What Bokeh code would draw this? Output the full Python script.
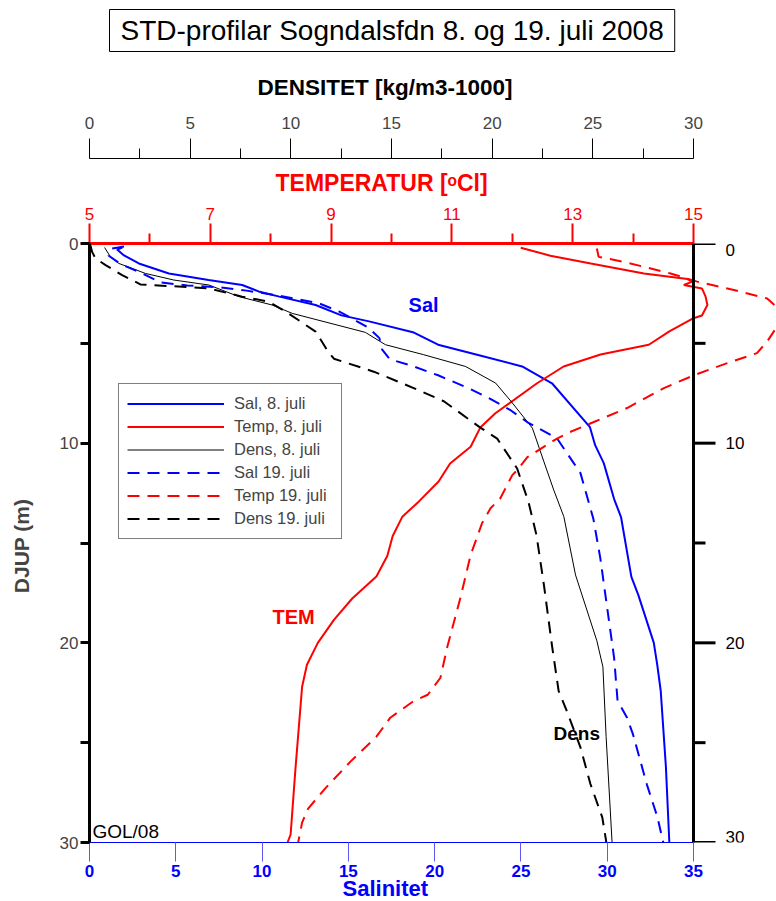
from bokeh.plotting import figure
from bokeh.models import (Range1d, LinearAxis, FixedTicker, Span, Label, Legend,
                          LegendItem, Title)
from bokeh.embed import file_html
from bokeh.resources import INLINE

# ---------------- data ----------------
sal_8_depth = [0.2, 0.3, 0.6, 1.0, 1.5, 1.83, 2.08, 2.4, 2.66, 3.08, 3.6, 3.9, 4.46, 5.07,
               5.57, 6.16, 7.0, 9.2, 10.1, 11.0, 12.8, 13.7, 16.7, 17.6, 20.0, 21.1, 22.4,
               26.2, 30.0]
sal_8 = [1.9, 1.6, 2.0, 2.86, 4.6, 6.9, 8.85, 9.8, 11.0, 13.1, 14.6, 16.2, 18.8, 20.2,
         22.46, 25.07, 26.8, 29.0, 29.3, 29.8, 30.4, 30.8, 31.4, 31.8, 32.7, 32.9, 33.1,
         33.4, 33.6]

temp_8_depth = [0.21, 0.61, 1.0, 1.5, 1.78, 1.91, 2.08, 2.25, 2.66, 3.08, 3.61, 3.74, 4.4,
                5.07, 5.56, 6.16, 7.0, 8.5, 9.22, 10.18, 11.02, 11.92, 12.93, 13.68, 14.65,
                15.65, 16.68, 17.78, 18.84, 20.0, 21.1, 22.2, 26.3, 29.6, 30.07]
temp_8 = [12.14, 12.63, 13.3, 14.18, 14.9, 14.98, 14.84, 15.14, 15.2, 15.23, 15.14, 15.0,
          14.6, 14.26, 13.46, 12.85, 12.41, 11.72, 11.47, 11.31, 10.97, 10.78, 10.45, 10.18,
          10.02, 9.93, 9.75, 9.35, 9.05, 8.78, 8.6, 8.52, 8.41, 8.33, 8.27]

dens_8_depth = [0.2, 0.67, 1.0, 1.5, 1.83, 2.08, 2.66, 3.08, 3.5, 4.45, 5.07, 5.57, 6.16,
                6.99, 7.92, 9.25, 10.9, 12.35, 13.68, 16.6, 19.9, 21.2, 24.7, 30.07]
dens_8 = [0.75, 1.04, 1.46, 2.78, 4.19, 5.93, 7.42, 9.07, 10.07, 13.7, 14.7, 16.6, 18.68,
          20.17, 20.95, 22.0, 22.56, 23.06, 23.56, 24.14, 25.2, 25.5, 25.66, 25.96]

sal_19_depth = [0.15, 0.25, 0.6, 1.03, 1.45, 1.95, 2.1, 2.2, 2.36, 2.6, 3.0, 3.4, 3.75, 4.24,
                4.74, 5.3, 5.8, 6.1, 6.6, 7.3, 7.77, 8.35, 8.94, 9.77, 11.0, 11.5, 13.8,
                15.76, 18.26, 20.75, 22.9, 23.75, 24.6, 27.1, 28.7, 30.2, 31.2]
sal_19 = [2.0, 1.3, 1.1, 1.8, 2.95, 4.1, 5.66, 7.6, 9.1, 10.9, 13.3, 14.45, 15.2, 16.2,
          16.8, 16.95, 17.4, 18.6, 20.2, 22.1, 23.2, 24.4, 25.36, 27.1, 28.06, 28.45, 29.2,
          29.6, 30.0, 30.4, 30.6, 31.15, 31.5, 32.3, 32.9, 33.3, 33.1]

temp_19_depth = [0.25, 0.67, 0.92, 1.5, 1.91, 2.33, 2.75, 3.25, 4.08, 4.91, 5.49, 5.99, 6.57,
                 7.24, 8.24, 8.94, 9.45, 9.77, 10.7, 11.35, 11.6, 12.77, 13.26, 14.0, 15.6,
                 17.76, 20.25, 21.75, 22.6, 22.95, 23.75, 24.7, 25.95, 27.3, 28.3, 29.0,
                 30.07, 30.8]
temp_19 = [13.4, 13.43, 13.85, 14.62, 15.06, 15.67, 16.22, 16.4, 16.4, 16.22, 16.05, 15.56,
           15.03, 14.51, 13.9, 13.35, 12.95, 12.74, 12.25, 12.08, 12.0, 11.8, 11.64, 11.5,
           11.31, 11.14, 10.92, 10.81, 10.6, 10.35, 9.98, 9.75, 9.32, 8.9, 8.62, 8.52,
           8.45, 8.44]

dens_19_depth = [0.1, 0.42, 0.75, 1.08, 1.58, 2.05, 2.13, 2.25, 2.66, 2.91, 3.41, 4.41, 5.42,
                 5.77, 6.42, 7.24, 7.9, 9.22, 9.77, 11.27, 12.93, 14.6, 17.1, 20.2, 22.4,
                 23.4, 25.25, 27.07, 28.74, 30.3]
dens_19 = [0.05, 0.13, 0.3, 0.8, 1.62, 2.53, 3.94, 5.93, 7.58, 8.9, 9.74, 11.23, 11.85,
           12.14, 14.12, 16.1, 17.6, 19.41, 20.25, 21.24, 21.8, 22.2, 22.57, 22.98, 23.3,
           23.7, 24.39, 24.88, 25.47, 25.72]

# axis ticks
sal_ticks = [0, 5, 10, 15, 20, 25, 30, 35]
temp_ticks = [5, 7, 9, 11, 13, 15]
temp_minor = [6, 8, 10, 12, 14]
dens_ticks = [0, 5, 10, 15, 20, 25, 30]
dens_minor = [2.5, 7.5, 12.5, 17.5, 22.5, 27.5]
depth_ticks = [0, 10, 20, 30]
depth_minor = [5, 15, 25]
depth_labels = ["0", "10", "20", "30"]

legend_labels = ["Sal, 8. juli", "Temp, 8. juli", "Dens, 8. juli",
                 "Sal 19. juli", "Temp 19. juli", "Dens 19. juli"]

# ---------------- layout ----------------
FONT = "Liberation Sans"
BLUE = "#0000ff"
RED = "#ff0000"
W, H = 776, 901
B_LEFT, B_TOP, B_BOTTOM = 89, 241, 59
frame_w = W - B_LEFT
main_w = 604                      # pixels covered by the 0..35 salinity span
scale = frame_w / main_w
x_end = sal_ticks[-1] * scale
temp_end = temp_ticks[0] + (temp_ticks[-1] - temp_ticks[0]) * scale
dens_end = dens_ticks[-1] * scale

p = figure(width=W, height=H, x_range=Range1d(0, x_end), y_range=Range1d(30, 0),
           output_backend="svg", toolbar_location=None,
           x_axis_location=None, y_axis_location=None, title_location=None,
           min_border_left=B_LEFT, min_border_right=0, min_border_top=B_TOP,
           min_border_bottom=B_BOTTOM)
p.outline_line_color = None
p.background_fill_color = "white"
p.border_fill_color = "white"
p.xgrid.grid_line_color = None
p.ygrid.grid_line_color = None
p.extra_x_ranges = {"temp": Range1d(temp_ticks[0], temp_end),
                    "dens": Range1d(0, dens_end)}

# temperature axis (top, red)
tax = LinearAxis(x_range_name="temp",
                 ticker=FixedTicker(ticks=temp_ticks, minor_ticks=temp_minor),
                 bounds=(temp_ticks[0], temp_ticks[-1]))
tax.axis_line_color = RED
tax.axis_line_width = 3
tax.major_tick_line_color = RED
tax.major_tick_line_width = 2
tax.major_tick_out = 20
tax.major_tick_in = 0
tax.minor_tick_line_color = RED
tax.minor_tick_line_width = 2
tax.minor_tick_out = 10
tax.minor_tick_in = 0
tax.major_label_text_color = RED
tax.major_label_text_font = FONT
tax.major_label_text_font_size = "17px"
tax.major_label_standoff = 4
p.add_layout(tax, "above")

p.add_layout(Title(text="TEMPERATUR  [ᵒCl]", align="left", offset=186,
                   text_font=FONT, text_font_size="23px", text_font_style="bold",
                   text_color=RED, standoff=18), "above")

# density axis (top, black)
dax = LinearAxis(x_range_name="dens",
                 ticker=FixedTicker(ticks=dens_ticks, minor_ticks=dens_minor),
                 bounds=(dens_ticks[0], dens_ticks[-1]))
dax.axis_line_color = "black"
dax.axis_line_width = 1
dax.major_tick_line_color = "black"
dax.major_tick_out = 20
dax.major_tick_in = 0
dax.minor_tick_line_color = "black"
dax.minor_tick_out = 10
dax.minor_tick_in = 0
dax.major_label_text_font = FONT
dax.major_label_text_font_size = "17px"
dax.major_label_standoff = 10
p.add_layout(dax, "above")

p.add_layout(Title(text="DENSITET [kg/m3-1000]", align="left", offset=168,
                   text_font=FONT, text_font_size="22.5px", text_font_style="bold",
                   text_color="black", standoff=28), "above")

p.add_layout(Title(text="STD-profilar Sogndalsfdn 8. og 19. juli 2008", align="left",
                   offset=20, text_font=FONT, text_font_size="28px",
                   text_font_style="normal", text_color="black", standoff=14,
                   border_line_color="black", border_line_width=1,
                   background_fill_color="white",
                   padding=dict(left=11, right=11, top=5, bottom=6)), "above")

# left depth axis
lax = LinearAxis(ticker=FixedTicker(ticks=depth_ticks, minor_ticks=depth_minor),
                 bounds=(depth_ticks[0], depth_ticks[-1]), axis_label="DJUP  (m)")
lax.axis_line_width = 3
lax.major_tick_line_width = 3
lax.minor_tick_line_width = 3
lax.major_tick_out = 9
lax.major_tick_in = 0
lax.minor_tick_out = 9
lax.minor_tick_in = 0
lax.major_label_text_font = FONT
lax.major_label_text_font_size = "17px"
lax.major_label_standoff = 2
lax.axis_label_text_font = FONT
lax.axis_label_text_font_size = "21px"
lax.axis_label_text_font_style = "bold"
lax.axis_label_standoff = 24
p.add_layout(lax, "left")

# bottom salinity axis
bax = LinearAxis(ticker=FixedTicker(ticks=sal_ticks, minor_ticks=[]),
                 bounds=(sal_ticks[0], sal_ticks[-1]))
bax.axis_line_color = BLUE
bax.axis_line_width = 1
bax.major_tick_line_color = "#5a5aff"
bax.major_tick_line_width = 1
bax.major_tick_out = 19
bax.major_tick_in = 0
bax.major_label_text_color = BLUE
bax.major_label_text_font = FONT
bax.major_label_text_font_size = "17px"
bax.major_label_text_font_style = "bold"
bax.major_label_standoff = 3
p.add_layout(bax, "below")

p.add_layout(Title(text="Salinitet", align="left", offset=253, text_font=FONT,
                   text_font_size="22px", text_font_style="bold", text_color=BLUE,
                   standoff=-11), "below")

# right depth axis, drawn at salinity 35
x_right = [sal_ticks[-1]] * len(depth_ticks)
p.add_layout(Span(location=sal_ticks[-1], dimension="height", line_color="black",
                  line_width=3))
p.ray(x=x_right, y=depth_ticks, length=22, length_units="screen", angle=0,
      line_color="black", line_width=3)
p.ray(x=[sal_ticks[-1]] * len(depth_minor), y=depth_minor, length=12,
      length_units="screen", angle=0, line_color="black", line_width=3)
baselines = ["top"] + ["middle"] * (len(depth_ticks) - 2) + ["bottom"]
for d, lab, bl in zip(depth_ticks, depth_labels, baselines):
    p.add_layout(Label(x=sal_ticks[-1], y=d, x_offset=32, text=lab, text_align="left",
                       text_baseline=bl, text_font=FONT, text_font_size="17px",
                       text_color="black"))

# ---------------- curves ----------------
DASH = "12 8"
r_sal8 = p.line(sal_8, sal_8_depth, line_color=BLUE, line_width=2)
r_temp8 = p.line(temp_8, temp_8_depth, line_color=RED, line_width=2, x_range_name="temp")
r_dens8 = p.line(dens_8, dens_8_depth, line_color="black", line_width=1, x_range_name="dens")
r_sal19 = p.line(sal_19, sal_19_depth, line_color=BLUE, line_width=2, line_dash=DASH)
r_temp19 = p.line(temp_19, temp_19_depth, line_color=RED, line_width=2, line_dash=DASH,
                  x_range_name="temp")
r_dens19 = p.line(dens_19, dens_19_depth, line_color="black", line_width=2, line_dash=DASH,
                  x_range_name="dens")

legend = Legend(items=[LegendItem(label=lab, renderers=[r]) for lab, r in
                       zip(legend_labels, [r_sal8, r_temp8, r_dens8, r_sal19, r_temp19,
                                           r_dens19])],
                location=(29, 303))
legend.label_text_font = FONT
legend.label_text_font_size = "16.5px"
legend.label_standoff = 10
legend.label_width = 99
legend.glyph_width = 97
legend.glyph_height = 23
legend.label_height = 23
legend.spacing = 0
legend.padding = 8
legend.margin = 0
legend.border_line_color = "black"
legend.border_line_width = 1
legend.background_fill_color = "white"
legend.background_fill_alpha = 1
p.add_layout(legend)

# curve labels
p.add_layout(Label(x=18.49, y=3.64, text="Sal", text_font=FONT, text_font_size="20px",
                   text_font_style="bold", text_color=BLUE))
p.add_layout(Label(x=10.6, y=19.27, text="TEM", text_font=FONT,
                   text_font_size="20px", text_font_style="bold", text_color=RED))
p.add_layout(Label(x=26.89, y=25.06, text="Dens", text_font=FONT, text_font_size="19px",
                   text_font_style="bold", text_color="black"))
p.add_layout(Label(x=0.17, y=29.95, text="GOL/08", text_font=FONT, text_font_size="19px",
                   text_color="black"))

open("out.html", "w").write(file_html(p, INLINE))
